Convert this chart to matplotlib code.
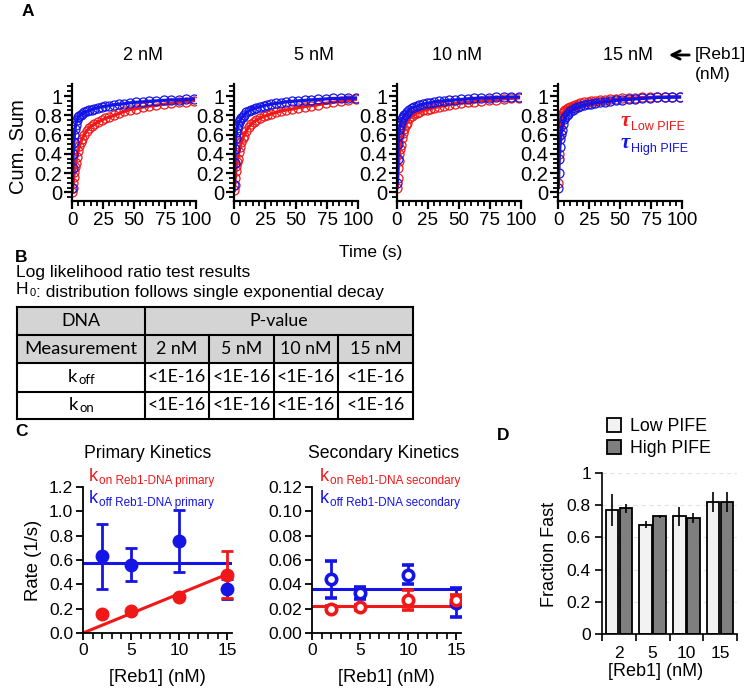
import numpy as np
import matplotlib
matplotlib.use('Agg')
from matplotlib import pyplot as plt
from matplotlib.patches import Rectangle
from matplotlib.ticker import MultipleLocator

plt.rcParams['font.family'] = ['Liberation Sans', 'DejaVu Sans']

W, H = 754, 692
RED = '#f01818'
BLUE = '#1414e6'
SANS = ['Liberation Sans', 'DejaVu Sans']

# ---- panel A: cumulative dwell-time distributions ----
conc_labels = ['2 nM', '5 nM', '10 nM', '15 nM']
time_s = [0.3, 0.6, 1, 1.5, 2, 2.5, 3, 4, 5, 6, 7, 8, 10, 12, 14, 16, 18, 21, 24, 27, 30, 34, 38, 42,
          47, 52, 57, 62, 68, 74, 80, 86, 92, 98]
cum_low = [
    [0.0, 0.05, 0.10, 0.16, 0.21, 0.26, 0.30, 0.37, 0.43, 0.48, 0.52, 0.55, 0.60, 0.64, 0.67, 0.69, 0.71,
     0.73, 0.75, 0.77, 0.78, 0.80, 0.82, 0.84, 0.86, 0.87, 0.885, 0.895, 0.905, 0.915, 0.925, 0.935, 0.94, 0.95],
    [0.02, 0.08, 0.15, 0.22, 0.27, 0.31, 0.35, 0.42, 0.47, 0.52, 0.56, 0.59, 0.64, 0.68, 0.71, 0.73, 0.75,
     0.77, 0.79, 0.80, 0.815, 0.83, 0.845, 0.855, 0.865, 0.88, 0.89, 0.90, 0.91, 0.925, 0.935, 0.945, 0.955, 0.965],
    [0.05, 0.15, 0.25, 0.33, 0.40, 0.45, 0.49, 0.56, 0.62, 0.66, 0.70, 0.72, 0.77, 0.79, 0.81, 0.825, 0.835,
     0.85, 0.86, 0.87, 0.88, 0.89, 0.90, 0.91, 0.92, 0.93, 0.935, 0.94, 0.95, 0.955, 0.96, 0.97, 0.975, 0.98],
    [0.10, 0.40, 0.58, 0.68, 0.74, 0.77, 0.79, 0.82, 0.84, 0.855, 0.865, 0.875, 0.89, 0.90, 0.91, 0.92, 0.925,
     0.935, 0.94, 0.945, 0.95, 0.955, 0.96, 0.965, 0.97, 0.975, 0.98, 0.98, 0.985, 0.985, 0.99, 0.99, 0.99, 0.99],
]
cum_high = [
    [0.05, 0.25, 0.40, 0.52, 0.60, 0.66, 0.70, 0.75, 0.78, 0.795, 0.805, 0.815, 0.83, 0.84, 0.85, 0.86, 0.87,
     0.88, 0.89, 0.895, 0.90, 0.91, 0.915, 0.92, 0.93, 0.935, 0.94, 0.945, 0.95, 0.955, 0.96, 0.96, 0.965, 0.97],
    [0.08, 0.30, 0.45, 0.56, 0.63, 0.67, 0.70, 0.73, 0.75, 0.77, 0.785, 0.80, 0.83, 0.845, 0.86, 0.87, 0.88,
     0.89, 0.90, 0.91, 0.915, 0.925, 0.93, 0.94, 0.945, 0.95, 0.955, 0.96, 0.965, 0.97, 0.975, 0.975, 0.98, 0.98],
    [0.10, 0.35, 0.50, 0.60, 0.66, 0.70, 0.73, 0.76, 0.78, 0.80, 0.815, 0.83, 0.86, 0.875, 0.885, 0.895, 0.905,
     0.915, 0.925, 0.93, 0.94, 0.945, 0.95, 0.955, 0.96, 0.965, 0.97, 0.975, 0.98, 0.98, 0.985, 0.985, 0.99, 0.99],
    [0.05, 0.20, 0.35, 0.47, 0.55, 0.61, 0.65, 0.71, 0.76, 0.78, 0.80, 0.815, 0.84, 0.86, 0.875, 0.885, 0.895,
     0.905, 0.915, 0.92, 0.93, 0.935, 0.94, 0.945, 0.955, 0.96, 0.965, 0.97, 0.975, 0.98, 0.985, 0.985, 0.99, 0.99],
]

# ---- panel B: table ----
table_conc = ['2 nM', '5 nM', '10 nM', '15 nM']
p_koff = ['<1E-16', '<1E-16', '<1E-16', '<1E-16']
p_kon = ['<1E-16', '<1E-16', '<1E-16', '<1E-16']

# ---- panel C: rates ----
reb1_nM = [2, 5, 10, 15]
prim_koff = [0.63, 0.56, 0.76, 0.36]
prim_koff_err = [0.27, 0.135, 0.255, 0.08]
prim_kon = [0.16, 0.18, 0.30, 0.48]
prim_kon_err = [0.01, 0.01, 0.01, 0.19]
prim_koff_fit = 0.575
prim_kon_slope = 0.0322
sec_koff = [0.044, 0.033, 0.048, 0.025]
sec_koff_err = [0.015, 0.005, 0.008, 0.012]
sec_kon = [0.020, 0.021, 0.027, 0.027]
sec_kon_err = [0.002, 0.002, 0.008, 0.004]
sec_koff_fit = 0.036
sec_kon_fit = 0.022

# ---- panel D: fraction fast ----
frac_labels = ['2', '5', '10', '15']
frac_low = [0.77, 0.68, 0.73, 0.82]
frac_low_err = [0.10, 0.02, 0.06, 0.065]
frac_high = [0.78, 0.73, 0.72, 0.82]
frac_high_err = [0.03, 0.01, 0.03, 0.06]


def px_axes(left, top, right, bottom):
    return fig.add_axes([left / W, 1 - bottom / H, (right - left) / W, (bottom - top) / H])


fig = plt.figure(figsize=(W / 100, H / 100), dpi=100)

# overlay in pixel coordinates for free text and the table
ov = fig.add_axes([0, 0, 1, 1], zorder=10)
ov.set_xlim(0, W)
ov.set_ylim(H, 0)
ov.axis('off')


def sub_label(x, y, main, sub, color, size, subsize, family=None, subfamily=None, **kw):
    fam = family if family else SANS
    t = ov.text(x, y, main, color=color, fontsize=size, va='baseline', ha='left', family=fam, **kw)
    ov.annotate(sub, xy=(1, 0), xycoords=t, xytext=(0.5, 0.5), textcoords='offset points',
                color=color, fontsize=subsize, va='baseline', ha='left',
                family=subfamily if subfamily else fam)
    return t


# ---------- panel A ----------
a_lefts = [72, 234, 397, 558]
title_x = [143, 314, 457, 628]
for i in range(4):
    ax = px_axes(a_lefts[i], 84, a_lefts[i] + 124, 201)
    ax.plot(time_s, cum_low[i], 'o', ms=6.5, mfc='none', mec=RED, mew=0.9)
    ax.plot(time_s, cum_low[i], '-', color=RED, lw=2.3)
    ax.plot(time_s, cum_high[i], 'o', ms=6.5, mfc='none', mec=BLUE, mew=0.9)
    ax.plot(time_s, cum_high[i], '-', color=BLUE, lw=2.3)
    ax.set_xlim(0, 100)
    ax.set_ylim(-0.09, 1.125)
    for s in ['top', 'right']:
        ax.spines[s].set_visible(False)
    for s in ['left', 'bottom']:
        ax.spines[s].set_linewidth(1.6)
    ax.set_xticks([0, 25, 50, 75, 100])
    ax.set_xticklabels(['0', '25', '50', '75', '100'])
    ax.xaxis.set_minor_locator(MultipleLocator(5))
    ax.set_yticks([0, 0.2, 0.4, 0.6, 0.8, 1.0])
    ax.set_yticklabels(['0', '0.2', '0.4', '0.6', '0.8', '1'])
    ax.yaxis.set_minor_locator(MultipleLocator(0.05))
    ax.tick_params(which='major', length=6, width=1.6, labelsize=14.5, pad=1)
    ax.tick_params(which='minor', length=3.5, width=1.3)
    ax.tick_params(axis='x', labelsize=13.5, pad=2)
    ov.text(title_x[i], 55, conc_labels[i], fontsize=13, ha='center', va='center')

ov.text(28, 12, 'A', fontsize=12.5, fontweight='bold', ha='center', va='center')
ov.text(19, 147, 'Cum. Sum', fontsize=14.5, rotation=90, ha='center', va='center')
ov.text(371, 252, 'Time (s)', fontsize=12.5, ha='center', va='center')
ov.annotate('', xy=(666, 55), xytext=(692, 55),
            arrowprops=dict(arrowstyle='->', lw=2, color='black', mutation_scale=15))
ov.text(695, 55, '[Reb1]', fontsize=12.5, ha='left', va='center')
ov.text(695, 74, '(nM)', fontsize=12.5, ha='left', va='center')
sub_label(621, 126, 'τ', 'Low PIFE', RED, 15, 9, family=['Liberation Serif', 'DejaVu Serif'],
          subfamily=SANS, fontweight='bold', fontstyle='italic')
sub_label(621, 148, 'τ', 'High PIFE', BLUE, 15, 9, family=['Liberation Serif', 'DejaVu Serif'],
          subfamily=SANS, fontweight='bold', fontstyle='italic')

# ---------- panel B ----------
ov.text(15, 258, 'B', fontsize=12.5, fontweight='bold', ha='left', va='center')
ov.text(16, 273, 'Log likelihood ratio test results', fontsize=12.5, ha='left', va='center')
h0 = sub_label(16, 294, 'H', '0', 'black', 12.5, 8)
ov.annotate(': distribution follows single exponential decay', xy=(1, 0), xycoords=h0,
            xytext=(5.5, 0), textcoords='offset points', fontsize=12.5, va='baseline', ha='left')

col_x = [17, 145, 209, 274, 338, 413]
row_y = [307, 335, 363, 392, 419]
tfont = ['Lato', 'DejaVu Sans']
tsize = 12.8
for r in range(2):
    ov.add_patch(Rectangle((col_x[0], row_y[r]), col_x[-1] - col_x[0], row_y[r + 1] - row_y[r],
                           facecolor='#d4d4d4', edgecolor='none', zorder=1))
for yy in row_y:
    ov.plot([col_x[0], col_x[-1]], [yy, yy], color='black', lw=1.5, zorder=2)
for xx in [col_x[0], col_x[1], col_x[-1]]:
    ov.plot([xx, xx], [row_y[0], row_y[-1]], color='black', lw=1.5, zorder=2)
for xx in col_x[2:-1]:
    ov.plot([xx, xx], [row_y[1], row_y[-1]], color='black', lw=1.5, zorder=2)


def cell_mid(c, r):
    return (col_x[c] + col_x[c + 1]) / 2, (row_y[r] + row_y[r + 1]) / 2


ov.text(*cell_mid(0, 0), 'DNA', family=tfont, fontsize=tsize, ha='center', va='center')
ov.text((col_x[1] + col_x[-1]) / 2, cell_mid(0, 0)[1], 'P-value', family=tfont, fontsize=tsize,
        ha='center', va='center')
ov.text(*cell_mid(0, 1), 'Measurement', family=tfont, fontsize=13.3, ha='center', va='center')
for j in range(4):
    ov.text(*cell_mid(j + 1, 1), table_conc[j], family=tfont, fontsize=tsize, ha='center', va='center')
    ov.text(*cell_mid(j + 1, 2), p_koff[j], family=tfont, fontsize=tsize, ha='center', va='center')
    ov.text(*cell_mid(j + 1, 3), p_kon[j], family=tfont, fontsize=tsize, ha='center', va='center')
sub_label(68, 382, 'k', 'off', 'black', 13.3, 9.5, family=tfont)
sub_label(69, 410, 'k', 'on', 'black', 13.3, 9.5, family=tfont)

# ---------- panel C ----------
ov.text(15, 432, 'C', fontsize=12.5, fontweight='bold', ha='left', va='center')


def style_rate_axes(ax):
    for s in ['top', 'right']:
        ax.spines[s].set_visible(False)
    for s in ['left', 'bottom']:
        ax.spines[s].set_linewidth(1.3)
    ax.set_xlim(0, 15.5)
    ax.set_xticks([0, 5, 10, 15])
    ax.xaxis.set_minor_locator(MultipleLocator(1))
    ax.tick_params(which='major', length=5, width=1.3, labelsize=12.5, pad=2)
    ax.tick_params(which='minor', length=4, width=1.2)


axp = px_axes(83, 487, 232, 633)
style_rate_axes(axp)
axp.set_ylim(0, 1.2)
axp.set_yticks(np.arange(0, 1.21, 0.2))
axp.set_yticklabels(['%.1f' % v for v in np.arange(0, 1.21, 0.2)])
axp.plot([0, 15.5], [prim_koff_fit, prim_koff_fit], color=BLUE, lw=2.2, zorder=2)
axp.plot([0, 15.5], [0, prim_kon_slope * 15.5], color=RED, lw=2.2, zorder=2)
axp.errorbar(reb1_nM, prim_koff, yerr=prim_koff_err, fmt='o', color=BLUE, ms=9, elinewidth=2,
             capsize=4, capthick=2, zorder=3, clip_on=False)
axp.errorbar(reb1_nM, prim_kon, yerr=prim_kon_err, fmt='o', color=RED, ms=9, elinewidth=2,
             capsize=4, capthick=2, zorder=3, clip_on=False)

axs = px_axes(312, 487, 461, 633)
style_rate_axes(axs)
axs.set_ylim(0, 0.12)
axs.set_yticks(np.arange(0, 0.121, 0.02))
axs.set_yticklabels(['%.2f' % v for v in np.arange(0, 0.121, 0.02)])
axs.plot([0, 15.5], [sec_koff_fit, sec_koff_fit], color=BLUE, lw=2.2, zorder=2)
axs.plot([0, 15.5], [sec_kon_fit, sec_kon_fit], color=RED, lw=2.2, zorder=2)
axs.errorbar(reb1_nM, sec_koff, yerr=sec_koff_err, fmt='o', color=BLUE, mfc='white', ms=7.5, mew=2.6,
             elinewidth=2, capsize=4, capthick=2, zorder=3)
axs.errorbar(reb1_nM, sec_kon, yerr=sec_kon_err, fmt='o', color=RED, mfc='white', ms=7.5, mew=2.6,
             elinewidth=2, capsize=4, capthick=2, zorder=3)

ov.text(148, 453, 'Primary Kinetics', fontsize=12.7, ha='center', va='center')
ov.text(384, 453, 'Secondary Kinetics', fontsize=12.7, ha='center', va='center')
sub_label(89, 481, 'k', 'on Reb1-DNA primary', RED, 13, 8.5)
sub_label(89, 503, 'k', 'off Reb1-DNA primary', BLUE, 13, 8.5)
sub_label(320, 481, 'k', 'on Reb1-DNA secondary', RED, 13, 8.5)
sub_label(320, 503, 'k', 'off Reb1-DNA secondary', BLUE, 13, 8.5)
ov.text(33, 560, 'Rate (1/s)', fontsize=13.3, rotation=90, ha='center', va='center')
ov.text(157, 678, '[Reb1] (nM)', fontsize=13.2, ha='center', va='center')
ov.text(386, 678, '[Reb1] (nM)', fontsize=13.2, ha='center', va='center')

# ---------- panel D ----------
ov.text(503, 436, 'D', fontsize=12.5, fontweight='bold', ha='center', va='center')
axd = px_axes(602, 473, 737, 634)
xd = np.arange(len(frac_labels))
bw = 0.37
axd.yaxis.grid(True, color='#e4e4e4', ls=(0, (4, 3)), lw=0.8)
axd.set_axisbelow(True)
b1 = axd.bar(xd - 0.205, frac_low, bw, color='#f2f2f2', edgecolor='black', lw=1.3,
             yerr=frac_low_err, error_kw=dict(ecolor='black', elinewidth=1.2, capsize=0), label='Low PIFE')
b2 = axd.bar(xd + 0.205, frac_high, bw, color='#7f7f7f', edgecolor='black', lw=1.3,
             yerr=frac_high_err, error_kw=dict(ecolor='black', elinewidth=1.2, capsize=0), label='High PIFE')
axd.set_xlim(-0.5, 3.5)
axd.set_ylim(0, 1)
for s in ['top', 'right']:
    axd.spines[s].set_visible(False)
for s in ['left', 'bottom']:
    axd.spines[s].set_linewidth(1.2)
axd.set_xticks(np.arange(-0.5, 3.6, 1))
axd.set_xticklabels([])
axd.set_xticks(xd, minor=True)
axd.set_xticklabels(frac_labels, minor=True)
axd.tick_params(axis='x', which='major', length=5, width=1.2)
axd.tick_params(axis='x', which='minor', length=0, labelsize=12.5, pad=9)
axd.set_yticks([0, 0.2, 0.4, 0.6, 0.8, 1.0])
axd.set_yticklabels(['0', '0.2', '0.4', '0.6', '0.8', '1'])
axd.tick_params(axis='y', length=5, width=1.2, labelsize=12.5, pad=3)
ov.text(549, 554, 'Fraction Fast', fontsize=13, rotation=90, ha='center', va='center')
ov.text(656, 671, '[Reb1] (nM)', fontsize=13, ha='center', va='center')
fig.legend(handles=[b1, b2], loc='upper left', bbox_to_anchor=(607 / W, 1 - 418 / H), frameon=False,
           fontsize=12.8, handlelength=0.8, handleheight=0.8, handletextpad=0.5, labelspacing=0.3,
           borderpad=0, borderaxespad=0)

fig.savefig('out.png', dpi=100)
